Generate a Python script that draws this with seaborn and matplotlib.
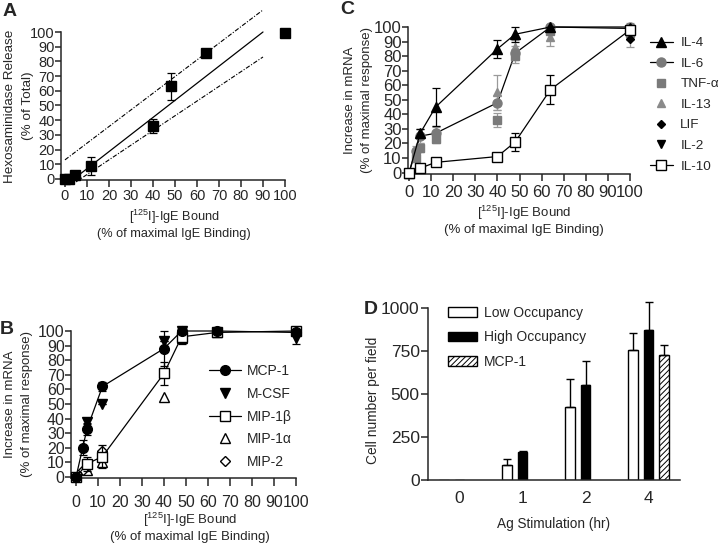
import numpy as np
import pandas as pd
import matplotlib
matplotlib.use("Agg")
import matplotlib.pyplot as plt
from matplotlib.patches import Patch
from matplotlib.lines import Line2D
from matplotlib.container import BarContainer
import seaborn as sns

sns.set_style("ticks")
plt.rcParams['font.family'] = ['Liberation Sans', 'DejaVu Sans']
plt.rcParams['mathtext.default'] = 'regular'
plt.rcParams['axes.linewidth'] = 1.1
plt.rcParams['hatch.linewidth'] = 0.7
plt.rcParams['xtick.major.width'] = 1.1
plt.rcParams['ytick.major.width'] = 1.1

# ---------------- DATA ----------------
# Panel A
a_x = [0, 2, 4.5, 12, 40, 48, 64, 100]
a_y = [0, 0, 2.5, 9, 36, 63, 86, 99]
a_err = [0, 0, 0, 6, 5, 9, 1, 0]
a_fit_x = [4, 90]
a_fit_y = [0, 100]
a_upper_x = [0, 90]
a_upper_y = [13, 115]
a_lower_x = [5, 90]
a_lower_y = [-2, 83]

# Panel C
c_il4_x = [0, 5, 12, 40, 48, 64, 100]
c_il4_y = [0, 27, 45, 85, 95, 100, 99]
c_il4_e = [0, 3, 13, 6, 5, 0, 0]
c_il6_x = [0, 3, 5, 12, 40, 48, 64, 100]
c_il6_y = [0, 15, 25, 27, 48, 82, 100, 100]
c_il6_e = [0, 3, 5, 5, 5, 5, 0, 0]
c_tnf_x = [3, 5, 12, 40, 48, 64, 100]
c_tnf_y = [10, 17, 23, 36, 80, 97, 96]
c_tnf_e = [3, 3, 3, 5, 5, 2, 3]
c_il13_x = [5, 12, 40, 48, 64, 100]
c_il13_y = [27, 28, 55, 86, 93, 97]
c_il13_e = [3, 3, 12, 5, 6, 6]
c_lif_x = [0, 100]
c_lif_y = [0, 92]
c_lif_e = [0, 6]
c_il2_x = [0, 100]
c_il2_y = [0, 95]
c_il10_x = [0, 5, 12, 40, 48, 64, 100]
c_il10_y = [0, 3, 7, 11, 21, 57, 98]
c_il10_e = [0, 0, 0, 0, 6, 10, 0]

# Panel B
b_mcp_x = [0, 3, 5, 12, 40, 48, 64, 100]
b_mcp_y = [0, 20, 33, 62, 88, 100, 100, 99]
b_mcp_e = [0, 5, 4, 3, 12, 2, 0, 0]
b_mcsf_x = [5, 12, 40, 48, 100]
b_mcsf_y = [38, 50, 93, 100, 95]
b_mcsf_e = [2, 0, 0, 0, 4]
b_mip1b_x = [0, 5, 12, 40, 48, 64, 100]
b_mip1b_y = [0, 9, 14, 71, 96, 99, 100]
b_mip1b_e = [0, 5, 8, 8, 5, 0, 0]
b_mip1a_x = [5, 12, 40, 48, 64]
b_mip1a_y = [5, 10, 55, 95, 99]
b_mip2_x = [3, 12, 48]
b_mip2_y = [5, 18, 97]

# Panel D
d_times = ['0', '1', '2', '4']
d_groups = ['Low Occupancy', 'High Occupancy', 'MCP-1']
d_low = [0, 85, 425, 755]
d_low_err = [0, 35, 160, 100]
d_high = [0, 160, 555, 870]
d_high_err = [0, 10, 135, 165]
d_mcp_time = ['4']
d_mcp = [725]
d_mcp_err = [60]

GREY = '#7a7a7a'

fig = plt.figure(figsize=(7.2, 5.44), dpi=100)

def px_axes(l, t, r, b):
    return fig.add_axes([l / 720, 1 - b / 544, (r - l) / 720, (b - t) / 544])

def ftext(x, y, s, **k):
    return fig.text(x / 720, 1 - y / 544, s, **k)

def style_xy(ax, fs, xlen=5, xpad=1.5):
    sns.despine(ax=ax)
    ax.set_xticks(np.arange(0, 101, 10))
    ax.set_yticks(np.arange(0, 101, 10))
    ax.tick_params(labelsize=fs, direction='out')
    ax.tick_params(axis='y', length=4, pad=0.5)
    ax.tick_params(axis='x', length=xlen, pad=xpad)
    ax.spines['left'].set_bounds(ax.get_ylim()[0], 100)
    ax.spines['bottom'].set_bounds(ax.get_xlim()[0], 100)

xlab = '[$^{125}$I]-IgE Bound\n(% of maximal IgE Binding)'

def ylabel2(x1, x2, y, l1, l2, fs):
    ftext(x1, y, l1, fontsize=fs, ha='center', va='center', rotation=90)
    ftext(x2, y, l2, fontsize=fs, ha='center', va='center', rotation=90)

# ---------------- Panel A ----------------
axA = px_axes(61, 32, 285, 180)
axA.set_xlim(-1.8, 100)
axA.set_ylim(-0.7, 100)
axA.plot(a_fit_x, a_fit_y, color='black', lw=0.9, clip_on=False)
axA.plot(a_upper_x, a_upper_y, color='black', lw=0.8, ls=(0, (4, 1.5, 1, 1.5)), clip_on=False)
axA.plot(a_lower_x, a_lower_y, color='black', lw=0.8, ls=(0, (4, 1.5, 1, 1.5)), clip_on=False)
axA.errorbar(a_x, a_y, yerr=a_err, fmt='s', color='black', ms=6.5, capsize=3,
             elinewidth=0.9, capthick=0.9, clip_on=False, zorder=3)
style_xy(axA, 10.5)
ftext(174, 224, xlab, fontsize=9.2, ha='center', va='center', linespacing=1.2)
ylabel2(10, 28, 106, 'Hexosaminidase Release', '(% of Total)', 9.7)

# ---------------- Panel C ----------------
axC = px_axes(408, 27, 630, 174)
axC.set_xlim(-0.5, 100)
axC.set_ylim(-1, 100)
kw = dict(capsize=3, elinewidth=0.9, capthick=0.9, clip_on=False)
axC.errorbar(c_il13_x, c_il13_y, yerr=c_il13_e, fmt='^', color='#8a8a8a', ms=6, ecolor='#9a9a9a', zorder=3, **kw)
axC.errorbar(c_tnf_x, c_tnf_y, yerr=c_tnf_e, fmt='s', color=GREY, ms=6, ecolor='#9a9a9a', zorder=3, **kw)
axC.errorbar(c_il6_x, c_il6_y, yerr=c_il6_e, fmt='o', color=GREY, mec=GREY, ms=6.5,
             ecolor='#9a9a9a', zorder=3, **kw)
axC.plot(c_il6_x, c_il6_y, color='black', lw=0.9, zorder=2, clip_on=False)
axC.errorbar(c_lif_x, c_lif_y, yerr=c_lif_e, fmt='D', color='black', ms=4.5, ecolor='#9a9a9a', zorder=4, **kw)
axC.plot(c_il2_x, c_il2_y, 'v', color='black', ms=5.5, zorder=4, clip_on=False)
axC.errorbar(c_il4_x, c_il4_y, yerr=c_il4_e, fmt='-^', color='black', ms=6.5, lw=0.9, zorder=5, **kw)
axC.errorbar(c_il10_x, c_il10_y, yerr=c_il10_e, fmt='-s', color='black', mfc='white', ms=7.5, lw=0.9,
             zorder=5, **kw)
style_xy(axC, 12, xlen=5, xpad=3)
ftext(524, 220, xlab, fontsize=9.5, ha='center', va='center', linespacing=1.15)
ylabel2(350, 367, 100, 'Increase in mRNA', '(% of maximal response)', 9.5)

hC = [Line2D([], [], color='black', marker='^', ms=6.5, lw=0.9),
      Line2D([], [], color='black', marker='o', mfc=GREY, mec=GREY, ms=6.5, lw=0.9),
      Line2D([], [], color=GREY, marker='s', ls='none', ms=5.5),
      Line2D([], [], color='#8a8a8a', marker='^', ls='none', ms=5.5),
      Line2D([], [], color='black', marker='D', ls='none', ms=4.5),
      Line2D([], [], color='black', marker='v', ls='none', ms=5.5),
      Line2D([], [], color='black', marker='s', mfc='white', ms=7, lw=0.9)]
fig.legend(hC, ['IL-4', 'IL-6', 'TNF-α', 'IL-13', 'LIF', 'IL-2', 'IL-10'],
           loc='upper left', bbox_to_anchor=(650 / 720, 1 - 37 / 544), frameon=False,
           fontsize=9.7, handlelength=1.7, handletextpad=0.55, labelspacing=0.6, borderpad=0,
           borderaxespad=0)

# ---------------- Panel B ----------------
axB = px_axes(71, 331, 296, 478)
axB.set_xlim(-2.3, 100)
axB.set_ylim(-0.7, 100)
axB.plot(b_mip1a_x, b_mip1a_y, '^', color='black', mfc='white', ms=6.5, zorder=3, clip_on=False)
axB.plot(b_mip2_x, b_mip2_y, 'D', color='black', mfc='white', ms=5, zorder=3, clip_on=False)
axB.errorbar(b_mip1b_x, b_mip1b_y, yerr=b_mip1b_e, fmt='-s', color='black', mfc='white', ms=7.5, lw=0.9,
             zorder=4, **kw)
axB.errorbar(b_mcsf_x, b_mcsf_y, yerr=b_mcsf_e, fmt='v', color='black', ms=6.5, zorder=4, **kw)
axB.errorbar(b_mcp_x, b_mcp_y, yerr=b_mcp_e, fmt='-o', color='black', ms=7, lw=0.9, zorder=5, **kw)
style_xy(axB, 11.5, xlen=6, xpad=6)
ftext(190, 527, xlab, fontsize=9.5, ha='center', va='center', linespacing=1.15)
ylabel2(10, 27, 404, 'Increase in mRNA', '(% of maximal response)', 9.5)

hB = [Line2D([], [], color='black', marker='o', ms=7, lw=0.9),
      Line2D([], [], color='black', marker='v', ls='none', ms=6.5),
      Line2D([], [], color='black', marker='s', mfc='white', ms=7, lw=0.9),
      Line2D([], [], color='black', marker='^', mfc='white', ls='none', ms=6.5),
      Line2D([], [], color='black', marker='D', mfc='white', ls='none', ms=5)]
fig.legend(hB, ['MCP-1', 'M-CSF', 'MIP-1β', 'MIP-1α', 'MIP-2'],
           loc='upper left', bbox_to_anchor=(209 / 720, 1 - 364 / 544), frameon=False,
           fontsize=10, handlelength=2.3, handletextpad=0.4, labelspacing=0.63, borderpad=0,
           borderaxespad=0)

# ---------------- Panel D ----------------
axD = px_axes(428, 308, 680, 480)
rows = []
for t, v in zip(d_times, d_low):
    rows.append(dict(time=t, group=d_groups[0], value=v))
for t, v in zip(d_times, d_high):
    rows.append(dict(time=t, group=d_groups[1], value=v))
for t, v in zip(d_mcp_time, d_mcp):
    rows.append(dict(time=t, group=d_groups[2], value=v))
dfD = pd.DataFrame(rows)
err_map = {}
for t, e in zip(d_times, d_low_err):
    err_map[(d_groups[0], t)] = e
for t, e in zip(d_times, d_high_err):
    err_map[(d_groups[1], t)] = e
for t, e in zip(d_mcp_time, d_mcp_err):
    err_map[(d_groups[2], t)] = e

pal = {d_groups[0]: 'white', d_groups[1]: 'black', d_groups[2]: 'white'}
sns.barplot(data=dfD, x='time', y='value', hue='group', order=d_times, hue_order=d_groups,
            palette=pal, width=0.72, gap=0.35, edgecolor='black', linewidth=1.0,
            errorbar=None, legend=False, ax=axD, saturation=1)
bar_conts = [c for c in axD.containers if isinstance(c, BarContainer)]
for gi, cont in enumerate(bar_conts):
    g = d_groups[gi]
    for p in cont.patches:
        cx = p.get_x() + p.get_width() / 2
        t = d_times[int(round(cx))]
        h = p.get_height()
        if g == 'MCP-1':
            p.set_hatch('//////')
        e = err_map.get((g, t), 0)
        if e > 0:
            axD.errorbar([cx], [h], yerr=[[0], [e]], fmt='none', ecolor='black',
                         elinewidth=1.0, capsize=3, capthick=1.0, clip_on=False)
axD.set_xlim(-0.5, 3.5)
axD.set_ylim(0, 1000)
axD.set_yticks([0, 250, 500, 750, 1000])
sns.despine(ax=axD)
axD.tick_params(labelsize=12.5, length=5, pad=1)
axD.tick_params(axis='x', length=0, pad=8)
axD.set_xlabel('Ag Stimulation (hr)', fontsize=9.8, labelpad=8)
axD.set_ylabel('')
ftext(373, 400, 'Cell number per field', fontsize=9.9, ha='center', va='center', rotation=90)
hD = [Patch(facecolor='white', edgecolor='black', lw=1.0),
      Patch(facecolor='black', edgecolor='black', lw=1.0),
      Patch(facecolor='white', edgecolor='black', hatch='//////', lw=1.0)]
fig.legend(hD, d_groups, loc='upper left', bbox_to_anchor=(448 / 720, 1 - 306 / 544), frameon=False,
           fontsize=10, handlelength=2.1, handleheight=0.7, handletextpad=0.5, labelspacing=0.75,
           borderpad=0, borderaxespad=0)

# Panel letters
for txt, x, y in [('A', 3, 3), ('C', 340, 1), ('B', 0, 321), ('D', 364, 301)]:
    ftext(x, y, txt, fontsize=14, fontweight='bold', va='top', ha='left')

fig.savefig('out.png', dpi=100)
